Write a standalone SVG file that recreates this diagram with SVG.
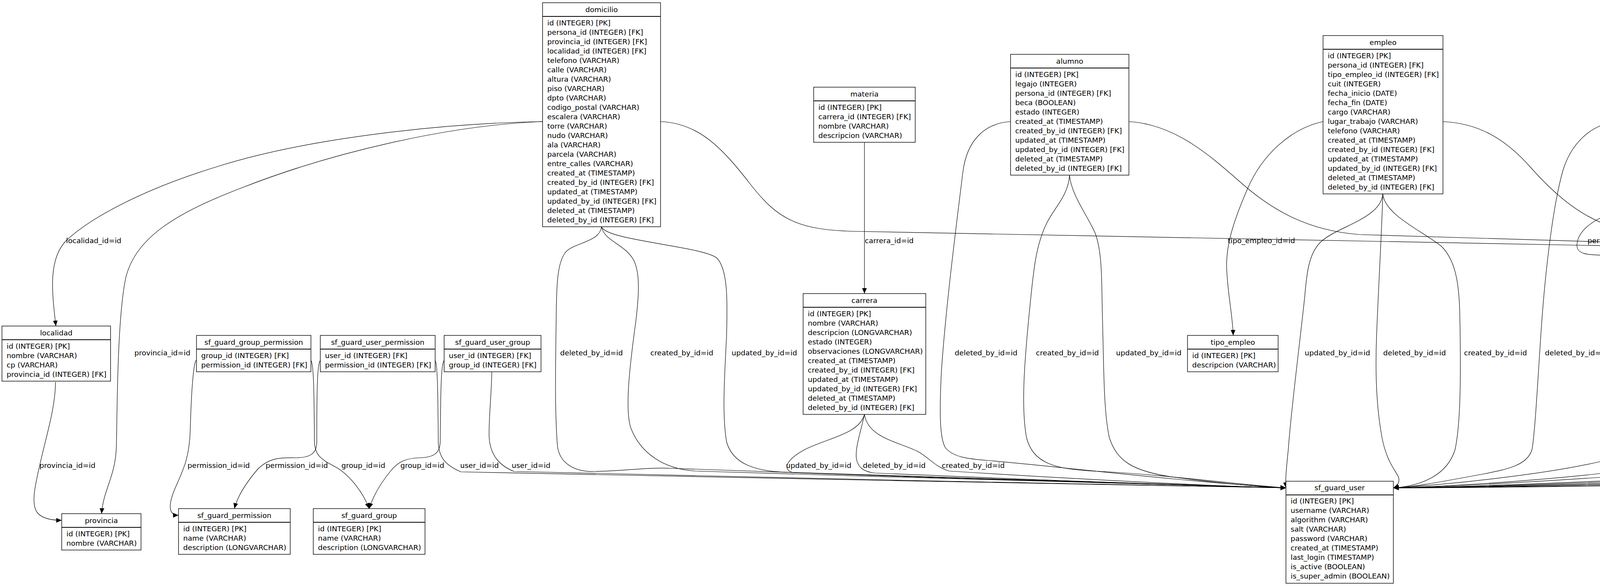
<svg xmlns="http://www.w3.org/2000/svg" width="6759" height="1499" viewBox="0 0 6759 1499">
<style>
text{font-family:"DejaVu Sans","Liberation Sans",sans-serif;font-size:18.5px;fill:#000}
.h{text-anchor:middle}
.b{fill:#fff;stroke:#000;stroke-width:1.4}
.d{stroke:#000;stroke-width:2.2}
.e{fill:none;stroke:#000;stroke-width:1.2;marker-end:url(#arr)}
</style>
<defs>
<marker id="arr" viewBox="0 0 14 12" refX="14" refY="6" markerWidth="14" markerHeight="12" markerUnits="userSpaceOnUse" orient="auto"><path d="M0,0 L14,6 L0,12 z" fill="#000"/></marker>
</defs>
<rect width="6759" height="1499" fill="#fff"/>
<g id="connectors">
<path class="e" d="M1389,311 C1150,315 800,350 560,425 C380,480 240,550 170,615 C120,665 135,760 143,834"/>
<path class="e" d="M1389,311 C1150,320 850,390 620,480 C450,545 340,610 320,720 C300,830 300,1050 298,1140 C296,1220 265,1250 260,1314"/>
<path class="e" d="M142,977 C142,1040 120,1110 104,1180 C90,1240 78,1290 96,1312 C110,1328 135,1331 158,1331"/>
<path class="e" d="M502,922 C496,928 490,990 487,1100 C485,1170 470,1200 450,1245 C430,1290 430,1318 457,1318"/>
<path class="e" d="M796,922 C803,930 804,1000 805,1130 C806,1170 830,1178 860,1195 C895,1215 930,1260 945,1301"/>
<path class="e" d="M820,922 C812,930 811,1000 811,1130 C811,1160 795,1170 760,1171 C720,1170 690,1170 660,1200 C630,1235 608,1270 600,1301"/>
<path class="e" d="M1114,922 C1120,930 1121,1000 1122,1130 C1123,1170 1140,1190 1180,1207 C1400,1215 2800,1238 3292,1248"/>
<path class="e" d="M1137,922 C1129,930 1128,1000 1127,1130 C1126,1160 1110,1170 1075,1171 C1040,1172 1020,1180 1000,1205 C975,1235 955,1270 945,1301"/>
<path class="e" d="M1259,952 C1258,1010 1252,1060 1252,1110 C1252,1160 1275,1190 1316,1206 C1600,1216 2900,1240 3292,1248"/>
<path class="e" d="M1540,580 C1535,620 1470,620 1448,645 C1428,670 1425,720 1424,800 C1422,950 1420,1050 1427,1140 C1432,1185 1470,1207 1520,1206 C1600,1205 1650,1195 1720,1198 C2200,1215 2900,1240 3292,1248"/>
<path class="e" d="M1540,580 C1545,615 1600,625 1622,665 C1640,700 1635,760 1628,820 C1610,950 1600,1050 1615,1095 C1640,1160 1700,1200 1780,1205 C2300,1220 2900,1240 3292,1248"/>
<path class="e" d="M1540,580 C1550,615 1800,630 1835,660 C1865,690 1862,780 1860,860 C1855,960 1848,1060 1860,1130 C1875,1185 1930,1205 2010,1208 C2500,1222 3000,1242 3292,1248"/>
<path class="e" d="M2213,1060 C2200,1110 2120,1120 2060,1150 C2015,1175 2000,1200 2030,1209 C2400,1222 3000,1242 3292,1248"/>
<path class="e" d="M2213,1060 C2205,1100 2190,1140 2192,1170 C2195,1195 2210,1207 2240,1210 C2600,1225 3050,1243 3292,1248"/>
<path class="e" d="M2213,1060 C2222,1120 2300,1130 2350,1155 C2380,1172 2395,1195 2430,1205 C2700,1222 3100,1244 3292,1248"/>
<path class="e" d="M2587,311 C2520,315 2475,360 2465,440 C2445,600 2420,800 2410,950 C2405,1050 2405,1120 2420,1145 C2440,1170 2480,1174 2530,1178 C2700,1192 3000,1230 3292,1248"/>
<path class="e" d="M2738,448 C2735,500 2700,530 2680,570 C2650,630 2645,700 2635,800 C2620,950 2615,1050 2628,1120 C2645,1185 2700,1200 2800,1205 C3000,1215 3150,1238 3292,1248"/>
<path class="e" d="M2738,448 C2742,500 2790,560 2805,600 C2822,650 2820,720 2822,800 C2826,950 2825,1050 2840,1120 C2860,1180 2900,1205 3000,1220 C3100,1233 3200,1244 3292,1248"/>
<path class="e" d="M3540,496 C3535,560 3420,580 3380,620 C3350,650 3345,700 3340,760 C3325,900 3305,1050 3298,1150 C3294,1190 3290,1225 3292,1248"/>
<path class="e" d="M3540,496 C3537,600 3528,750 3524,860 C3520,960 3525,1050 3538,1120 C3550,1180 3570,1200 3580,1220 C3585,1235 3575,1245 3567,1248"/>
<path class="e" d="M3540,496 C3545,550 3640,590 3690,630 C3725,665 3735,720 3737,800 C3740,950 3740,1080 3725,1150 C3705,1215 3640,1243 3567,1248"/>
<path class="e" d="M4140,311 C4070,318 4020,370 4000,440 C3975,530 3955,700 3945,850 C3935,1000 3930,1100 3922,1150 C3910,1190 3860,1200 3800,1212 C3700,1230 3630,1245 3567,1248"/>
<path class="e" d="M4291,435 C4290,500 4250,515 4160,535 C4080,555 4040,590 4037,625 C4035,650 4060,653 4120,653 C4160,654 4172,690 4178,740 C4190,850 4188,980 4183,1050 C4176,1120 4150,1160 4100,1180 C3950,1215 3700,1240 3567,1248"/>
<path class="e" d="M4291,435 C4292,500 4340,515 4420,535 C4500,555 4540,590 4548,625 C4552,645 4520,643 4450,642 C4390,645 4370,700 4365,760 C4360,860 4390,950 4405,1030 C4412,1100 4380,1160 4320,1180 C4100,1220 3750,1243 3567,1248"/>
<path class="e" d="M5076,311 C4950,320 4820,380 4730,470 C4650,550 4615,620 4608,700 C4600,850 4602,1000 4601,1120 C4600,1165 4580,1180 4500,1192 C4200,1215 3800,1243 3567,1248"/>
<path class="e" d="M5076,311 C4960,330 4910,390 4890,480 C4860,600 4840,700 4833,820 C4828,950 4828,1050 4825,1120 C4820,1170 4790,1190 4700,1200 C4300,1222 3850,1244 3567,1248"/>
<path class="e" d="M5256,531 C5250,580 5200,590 5120,612 C5060,630 5040,680 5037,760 C5035,900 5036,1050 5032,1130 C5028,1165 5000,1175 4900,1190 C4500,1220 3900,1244 3567,1248"/>
<path class="e" d="M5237,922 C5225,935 5223,1000 5223,1100 C5223,1150 5210,1168 5180,1172 C5100,1175 5030,1172 5000,1180 C4970,1190 4960,1200 4900,1205 C4500,1225 3900,1245 3567,1248"/>
<path class="e" d="M5533,918 C5525,930 5524,1000 5524,1130 C5524,1160 5510,1168 5480,1170 C5300,1175 5180,1172 5140,1180 C5115,1188 5105,1205 5060,1210 C4600,1228 3950,1245 3567,1248"/>
<path class="e" d="M5533,922 C5528,935 5528,1000 5528,1140 C5528,1170 5505,1178 5470,1180 C5400,1181 5330,1180 5300,1188 C5280,1195 5270,1210 5230,1214 C4700,1230 4000,1246 3567,1248"/>
<path class="e" d="M5703,1155 C5695,1170 5680,1178 5620,1183 C5540,1188 5500,1190 5480,1205 C5460,1215 5400,1216 5300,1218 C4700,1235 4000,1247 3567,1248"/>
<path class="e" d="M5703,1155 C5706,1200 5705,1250 5701,1301"/>
<path class="e" d="M5703,1155 C5710,1175 5730,1180 5780,1183 C5820,1186 5838,1230 5839,1314"/>
<path class="e" d="M5875,922 C5882,935 5883,1000 5883,1130 C5883,1165 5905,1175 5960,1180 C6010,1185 6050,1210 6075,1235 C6090,1255 6096,1280 6096,1301"/>
<path class="e" d="M5875,922 C5885,935 5886,1000 5886,1140 C5886,1170 5910,1178 5960,1176 C6050,1172 6150,1160 6230,1172 C6270,1180 6274,1210 6273,1250 C6272,1300 6275,1331 6308,1331"/>
<path class="e" d="M5444,311 C5650,318 5800,390 5890,480 C5970,560 6000,680 6010,760 C6015,810 6015,840 6015,858"/>
<path class="e" d="M5444,311 C5700,320 5950,420 6150,600 C6350,780 6480,980 6530,1150 C6560,1250 6545,1331 6510,1331"/>
<path class="e" d="M3387,311 C3300,330 3230,400 3195,480 C3160,560 3140,620 3140,680 C3142,750 3155,800 3157,858"/>
<path class="e" d="M2213,364 L2213,751"/>
<path class="e" d="M1691,311 C1790,315 1850,380 1920,470 C1990,560 2040,590 2200,592 C3200,605 4400,630 5533,662"/>
<path class="e" d="M2890,311 C3010,318 3100,400 3180,470 C3260,540 3350,590 3480,600 C4000,615 4800,640 5533,662"/>
<path class="e" d="M3694,311 C3780,315 3850,350 3920,430 C4000,520 4080,580 4200,598 C4600,620 5100,640 5533,662"/>
<path class="e" d="M4443,311 C4600,318 4700,370 4800,440 C4950,540 5100,595 5300,620 C5420,635 5500,645 5533,662"/>
<path class="e" d="M5256,531 C5258,560 5300,575 5420,600 C5480,615 5515,640 5533,662"/>
<text x="169" y="622">localidad_id=id</text>
<text x="2214" y="622">carrera_id=id</text>
<text x="3143" y="622">tipo_empleo_id=id</text>
<text x="4064" y="622">persona_id=id</text>
<text x="4332" y="622">persona_id=id</text>
<text x="4993" y="622">persona_id=id</text>
<text x="5248" y="622">persona_id=id</text>
<text x="5472" y="622">persona_id=id</text>
<text x="5975" y="622">tipo_titulo_id=id</text>
<text x="344" y="909">provincia_id=id</text>
<text x="1434" y="909">deleted_by_id=id</text>
<text x="1665" y="909">created_by_id=id</text>
<text x="1873" y="909">updated_by_id=id</text>
<text x="2444" y="909">deleted_by_id=id</text>
<text x="2652" y="909">created_by_id=id</text>
<text x="2857" y="909">updated_by_id=id</text>
<text x="3340" y="909">updated_by_id=id</text>
<text x="3541" y="909">deleted_by_id=id</text>
<text x="3748" y="909">created_by_id=id</text>
<text x="3955" y="909">deleted_by_id=id</text>
<text x="4189" y="909">created_by_id=id</text>
<text x="4414" y="909">updated_by_id=id</text>
<text x="4615" y="909">deleted_by_id=id</text>
<text x="4847" y="909">created_by_id=id</text>
<text x="5054" y="909">updated_by_id=id</text>
<text x="6515" y="909">titulo_nacionalidad_id=id</text>
<text x="101" y="1197">provincia_id=id</text>
<text x="480" y="1197">permission_id=id</text>
<text x="680" y="1197">permission_id=id</text>
<text x="874" y="1197">group_id=id</text>
<text x="1025" y="1197">group_id=id</text>
<text x="1178" y="1197">user_id=id</text>
<text x="1310" y="1197">user_id=id</text>
<text x="2012" y="1197">updated_by_id=id</text>
<text x="2209" y="1197">deleted_by_id=id</text>
<text x="2411" y="1197">created_by_id=id</text>
<text x="4975" y="1197">user_id=id</text>
<text x="5111" y="1197">created_by_id=id</text>
<text x="5308" y="1197">updated_by_id=id</text>
<text x="5532" y="1197">deleted_by_id=id</text>
<text x="5704" y="1197">sexo_id=id</text>
<text x="5828" y="1197">estado_civil_id=id</text>
<text x="6040" y="1197">tipo_documento_id=id</text>
<text x="6271" y="1197">nacionalidad_id=id</text>
</g>
<g id="localidad"><rect class="b" x="5" y="834" width="278" height="141"/><line class="d" x1="5" y1="869" x2="283" y2="869"/><text class="h" x="144" y="858">localidad</text><text x="17" y="892"><tspan x="17">id (INTEGER) [PK]</tspan><tspan x="17" dy="24">nombre (VARCHAR)</tspan><tspan x="17" dy="24">cp (VARCHAR)</tspan><tspan x="17" dy="24">provincia_id (INTEGER) [FK]</tspan></text></g>
<g id="provincia"><rect class="b" x="158" y="1314" width="203" height="93"/><line class="d" x1="158" y1="1349" x2="361" y2="1349"/><text class="h" x="259.5" y="1338">provincia</text><text x="170" y="1372"><tspan x="170">id (INTEGER) [PK]</tspan><tspan x="170" dy="24">nombre (VARCHAR)</tspan></text></g>
<g id="sf_guard_group_permission"><rect class="b" x="503" y="858" width="293" height="93"/><line class="d" x1="503" y1="893" x2="796" y2="893"/><text class="h" x="649.5" y="882">sf_guard_group_permission</text><text x="515" y="916"><tspan x="515">group_id (INTEGER) [FK]</tspan><tspan x="515" dy="24">permission_id (INTEGER) [FK]</tspan></text></g>
<g id="sf_guard_user_permission"><rect class="b" x="820" y="858" width="294" height="93"/><line class="d" x1="820" y1="893" x2="1114" y2="893"/><text class="h" x="967" y="882">sf_guard_user_permission</text><text x="832" y="916"><tspan x="832">user_id (INTEGER) [FK]</tspan><tspan x="832" dy="24">permission_id (INTEGER) [FK]</tspan></text></g>
<g id="sf_guard_user_group"><rect class="b" x="1137" y="858" width="248" height="93"/><line class="d" x1="1137" y1="893" x2="1385" y2="893"/><text class="h" x="1261" y="882">sf_guard_user_group</text><text x="1149" y="916"><tspan x="1149">user_id (INTEGER) [FK]</tspan><tspan x="1149" dy="24">group_id (INTEGER) [FK]</tspan></text></g>
<g id="sf_guard_permission"><rect class="b" x="457" y="1301" width="286" height="117"/><line class="d" x1="457" y1="1336" x2="743" y2="1336"/><text class="h" x="600" y="1325">sf_guard_permission</text><text x="469" y="1359"><tspan x="469">id (INTEGER) [PK]</tspan><tspan x="469" dy="24">name (VARCHAR)</tspan><tspan x="469" dy="24">description (LONGVARCHAR)</tspan></text></g>
<g id="sf_guard_group"><rect class="b" x="802" y="1301" width="286" height="117"/><line class="d" x1="802" y1="1336" x2="1088" y2="1336"/><text class="h" x="945" y="1325">sf_guard_group</text><text x="814" y="1359"><tspan x="814">id (INTEGER) [PK]</tspan><tspan x="814" dy="24">name (VARCHAR)</tspan><tspan x="814" dy="24">description (LONGVARCHAR)</tspan></text></g>
<g id="domicilio"><rect class="b" x="1389" y="7" width="302" height="573"/><line class="d" x1="1389" y1="42" x2="1691" y2="42"/><text class="h" x="1540" y="31">domicilio</text><text x="1401" y="65"><tspan x="1401">id (INTEGER) [PK]</tspan><tspan x="1401" dy="24">persona_id (INTEGER) [FK]</tspan><tspan x="1401" dy="24">provincia_id (INTEGER) [FK]</tspan><tspan x="1401" dy="24">localidad_id (INTEGER) [FK]</tspan><tspan x="1401" dy="24">telefono (VARCHAR)</tspan><tspan x="1401" dy="24">calle (VARCHAR)</tspan><tspan x="1401" dy="24">altura (VARCHAR)</tspan><tspan x="1401" dy="24">piso (VARCHAR)</tspan><tspan x="1401" dy="24">dpto (VARCHAR)</tspan><tspan x="1401" dy="24">codigo_postal (VARCHAR)</tspan><tspan x="1401" dy="24">escalera (VARCHAR)</tspan><tspan x="1401" dy="24">torre (VARCHAR)</tspan><tspan x="1401" dy="24">nudo (VARCHAR)</tspan><tspan x="1401" dy="24">ala (VARCHAR)</tspan><tspan x="1401" dy="24">parcela (VARCHAR)</tspan><tspan x="1401" dy="24">entre_calles (VARCHAR)</tspan><tspan x="1401" dy="24">created_at (TIMESTAMP)</tspan><tspan x="1401" dy="24">created_by_id (INTEGER) [FK]</tspan><tspan x="1401" dy="24">updated_at (TIMESTAMP)</tspan><tspan x="1401" dy="24">updated_by_id (INTEGER) [FK]</tspan><tspan x="1401" dy="24">deleted_at (TIMESTAMP)</tspan><tspan x="1401" dy="24">deleted_by_id (INTEGER) [FK]</tspan></text></g>
<g id="materia"><rect class="b" x="2083" y="223" width="260" height="141"/><line class="d" x1="2083" y1="258" x2="2343" y2="258"/><text class="h" x="2213" y="247">materia</text><text x="2095" y="281"><tspan x="2095">id (INTEGER) [PK]</tspan><tspan x="2095" dy="24">carrera_id (INTEGER) [FK]</tspan><tspan x="2095" dy="24">nombre (VARCHAR)</tspan><tspan x="2095" dy="24">descripcion (VARCHAR)</tspan></text></g>
<g id="carrera"><rect class="b" x="2056" y="751" width="314" height="309"/><line class="d" x1="2056" y1="786" x2="2370" y2="786"/><text class="h" x="2213" y="775">carrera</text><text x="2068" y="809"><tspan x="2068">id (INTEGER) [PK]</tspan><tspan x="2068" dy="24">nombre (VARCHAR)</tspan><tspan x="2068" dy="24">descripcion (LONGVARCHAR)</tspan><tspan x="2068" dy="24">estado (INTEGER)</tspan><tspan x="2068" dy="24">observaciones (LONGVARCHAR)</tspan><tspan x="2068" dy="24">created_at (TIMESTAMP)</tspan><tspan x="2068" dy="24">created_by_id (INTEGER) [FK]</tspan><tspan x="2068" dy="24">updated_at (TIMESTAMP)</tspan><tspan x="2068" dy="24">updated_by_id (INTEGER) [FK]</tspan><tspan x="2068" dy="24">deleted_at (TIMESTAMP)</tspan><tspan x="2068" dy="24">deleted_by_id (INTEGER) [FK]</tspan></text></g>
<g id="alumno"><rect class="b" x="2587" y="139" width="303" height="309"/><line class="d" x1="2587" y1="174" x2="2890" y2="174"/><text class="h" x="2738.5" y="163">alumno</text><text x="2599" y="197"><tspan x="2599">id (INTEGER) [PK]</tspan><tspan x="2599" dy="24">legajo (INTEGER)</tspan><tspan x="2599" dy="24">persona_id (INTEGER) [FK]</tspan><tspan x="2599" dy="24">beca (BOOLEAN)</tspan><tspan x="2599" dy="24">estado (INTEGER)</tspan><tspan x="2599" dy="24">created_at (TIMESTAMP)</tspan><tspan x="2599" dy="24">created_by_id (INTEGER) [FK]</tspan><tspan x="2599" dy="24">updated_at (TIMESTAMP)</tspan><tspan x="2599" dy="24">updated_by_id (INTEGER) [FK]</tspan><tspan x="2599" dy="24">deleted_at (TIMESTAMP)</tspan><tspan x="2599" dy="24">deleted_by_id (INTEGER) [FK]</tspan></text></g>
<g id="empleo"><rect class="b" x="3387" y="91" width="307" height="405"/><line class="d" x1="3387" y1="126" x2="3694" y2="126"/><text class="h" x="3540.5" y="115">empleo</text><text x="3399" y="149"><tspan x="3399">id (INTEGER) [PK]</tspan><tspan x="3399" dy="24">persona_id (INTEGER) [FK]</tspan><tspan x="3399" dy="24">tipo_empleo_id (INTEGER) [FK]</tspan><tspan x="3399" dy="24">cuit (INTEGER)</tspan><tspan x="3399" dy="24">fecha_inicio (DATE)</tspan><tspan x="3399" dy="24">fecha_fin (DATE)</tspan><tspan x="3399" dy="24">cargo (VARCHAR)</tspan><tspan x="3399" dy="24">lugar_trabajo (VARCHAR)</tspan><tspan x="3399" dy="24">telefono (VARCHAR)</tspan><tspan x="3399" dy="24">created_at (TIMESTAMP)</tspan><tspan x="3399" dy="24">created_by_id (INTEGER) [FK]</tspan><tspan x="3399" dy="24">updated_at (TIMESTAMP)</tspan><tspan x="3399" dy="24">updated_by_id (INTEGER) [FK]</tspan><tspan x="3399" dy="24">deleted_at (TIMESTAMP)</tspan><tspan x="3399" dy="24">deleted_by_id (INTEGER) [FK]</tspan></text></g>
<g id="tipo_empleo"><rect class="b" x="3040" y="858" width="232" height="93"/><line class="d" x1="3040" y1="893" x2="3272" y2="893"/><text class="h" x="3156" y="882">tipo_empleo</text><text x="3052" y="916"><tspan x="3052">id (INTEGER) [PK]</tspan><tspan x="3052" dy="24">descripcion (VARCHAR)</tspan></text></g>
<g id="sf_guard_user"><rect class="b" x="3292" y="1231" width="275" height="261"/><line class="d" x1="3292" y1="1266" x2="3567" y2="1266"/><text class="h" x="3429.5" y="1254">sf_guard_user</text><text x="3304" y="1288"><tspan x="3304">id (INTEGER) [PK]</tspan><tspan x="3304" dy="24">username (VARCHAR)</tspan><tspan x="3304" dy="24">algorithm (VARCHAR)</tspan><tspan x="3304" dy="24">salt (VARCHAR)</tspan><tspan x="3304" dy="24">password (VARCHAR)</tspan><tspan x="3304" dy="24">created_at (TIMESTAMP)</tspan><tspan x="3304" dy="24">last_login (TIMESTAMP)</tspan><tspan x="3304" dy="24">is_active (BOOLEAN)</tspan><tspan x="3304" dy="24">is_super_admin (BOOLEAN)</tspan></text></g>
<g id="docente"><rect class="b" x="4140" y="150" width="302" height="285"/><line class="d" x1="4140" y1="185" x2="4442" y2="185"/><text class="h" x="4291" y="174">docente</text><text x="4152" y="208"><tspan x="4152">id (INTEGER) [PK]</tspan><tspan x="4152" dy="24">legajo (INTEGER)</tspan><tspan x="4152" dy="24">estado (INTEGER)</tspan><tspan x="4152" dy="24">persona_id (INTEGER) [FK]</tspan><tspan x="4152" dy="24">created_at (TIMESTAMP)</tspan><tspan x="4152" dy="24">created_by_id (INTEGER) [FK]</tspan><tspan x="4152" dy="24">updated_at (TIMESTAMP)</tspan><tspan x="4152" dy="24">updated_by_id (INTEGER) [FK]</tspan><tspan x="4152" dy="24">deleted_at (TIMESTAMP)</tspan><tspan x="4152" dy="24">deleted_by_id (INTEGER) [FK]</tspan></text></g>
<g id="dato_academico"><rect class="b" x="5076" y="54" width="367" height="477"/><line class="d" x1="5076" y1="89" x2="5443" y2="89"/><text class="h" x="5259.5" y="78">dato_academico</text><text x="5088" y="112"><tspan x="5088">id (INTEGER) [PK]</tspan><tspan x="5088" dy="24">persona_id (INTEGER) [FK]</tspan><tspan x="5088" dy="24">tipo_titulo_id (INTEGER) [FK]</tspan><tspan x="5088" dy="24">titulo_obtenido (VARCHAR)</tspan><tspan x="5088" dy="24">establecimiento (VARCHAR)</tspan><tspan x="5088" dy="24">anio_titulo (INTEGER)</tspan><tspan x="5088" dy="24">jurisdiccion (VARCHAR)</tspan><tspan x="5088" dy="24">titulo_nacionalidad_id (INTEGER) [FK]</tspan><tspan x="5088" dy="24">estatal (BOOLEAN)</tspan><tspan x="5088" dy="24">visado (BOOLEAN)</tspan><tspan x="5088" dy="24">fecha_visado (DATE)</tspan><tspan x="5088" dy="24">observaciones (LONGVARCHAR)</tspan><tspan x="5088" dy="24">created_at (TIMESTAMP)</tspan><tspan x="5088" dy="24">created_by_id (INTEGER) [FK]</tspan><tspan x="5088" dy="24">updated_at (TIMESTAMP)</tspan><tspan x="5088" dy="24">updated_by_id (INTEGER) [FK]</tspan><tspan x="5088" dy="24">deleted_at (TIMESTAMP)</tspan><tspan x="5088" dy="24">deleted_by_id (INTEGER) [FK]</tspan></text></g>
<g id="sf_guard_remember_key"><rect class="b" x="5237" y="834" width="272" height="141"/><line class="d" x1="5237" y1="869" x2="5509" y2="869"/><text class="h" x="5373" y="858">sf_guard_remember_key</text><text x="5249" y="892"><tspan x="5249">user_id (INTEGER) [FK]</tspan><tspan x="5249" dy="24">remember_key (VARCHAR)</tspan><tspan x="5249" dy="24">ip_address (VARCHAR) [PK]</tspan><tspan x="5249" dy="24">created_at (TIMESTAMP)</tspan></text></g>
<g id="persona"><rect class="b" x="5533" y="654" width="341" height="501"/><line class="d" x1="5533" y1="689" x2="5874" y2="689"/><text class="h" x="5703.5" y="678">persona</text><text x="5545" y="712"><tspan x="5545">id (INTEGER) [PK]</tspan><tspan x="5545" dy="24">nombre (VARCHAR)</tspan><tspan x="5545" dy="24">apellido (VARCHAR)</tspan><tspan x="5545" dy="24">tipo_documento_id (INTEGER) [FK]</tspan><tspan x="5545" dy="24">nro_documento (INTEGER)</tspan><tspan x="5545" dy="24">sexo_id (INTEGER) [FK]</tspan><tspan x="5545" dy="24">celular (VARCHAR)</tspan><tspan x="5545" dy="24">email (VARCHAR)</tspan><tspan x="5545" dy="24">nacionalidad_id (INTEGER) [FK]</tspan><tspan x="5545" dy="24">estado_civil_id (INTEGER) [FK]</tspan><tspan x="5545" dy="24">fecha_nacimiento (DATE)</tspan><tspan x="5545" dy="24">lugar_nacimiento (VARCHAR)</tspan><tspan x="5545" dy="24">observaciones (LONGVARCHAR)</tspan><tspan x="5545" dy="24">created_at (TIMESTAMP)</tspan><tspan x="5545" dy="24">created_by_id (INTEGER) [FK]</tspan><tspan x="5545" dy="24">updated_at (TIMESTAMP)</tspan><tspan x="5545" dy="24">updated_by_id (INTEGER) [FK]</tspan><tspan x="5545" dy="24">deleted_at (TIMESTAMP)</tspan><tspan x="5545" dy="24">deleted_by_id (INTEGER) [FK]</tspan></text></g>
<g id="tipo_titulo"><rect class="b" x="5898" y="858" width="233" height="93"/><line class="d" x1="5898" y1="893" x2="6131" y2="893"/><text class="h" x="6014.5" y="882">tipo_titulo</text><text x="5910" y="916"><tspan x="5910">id (INTEGER) [PK]</tspan><tspan x="5910" dy="24">descripcion (VARCHAR)</tspan></text></g>
<g id="tipo_sexo"><rect class="b" x="5467" y="1301" width="232" height="117"/><line class="d" x1="5467" y1="1336" x2="5699" y2="1336"/><text class="h" x="5583" y="1325">tipo_sexo</text><text x="5479" y="1359"><tspan x="5479">id (INTEGER) [PK]</tspan><tspan x="5479" dy="24">nombre (VARCHAR)</tspan><tspan x="5479" dy="24">descripcion (VARCHAR)</tspan></text></g>
<g id="estado_civil"><rect class="b" x="5723" y="1314" width="233" height="93"/><line class="d" x1="5723" y1="1349" x2="5956" y2="1349"/><text class="h" x="5839.5" y="1338">estado_civil</text><text x="5735" y="1372"><tspan x="5735">id (INTEGER) [PK]</tspan><tspan x="5735" dy="24">descripcion (VARCHAR)</tspan></text></g>
<g id="tipo_documento"><rect class="b" x="5979" y="1301" width="233" height="117"/><line class="d" x1="5979" y1="1336" x2="6212" y2="1336"/><text class="h" x="6095.5" y="1325">tipo_documento</text><text x="5991" y="1359"><tspan x="5991">id (INTEGER) [PK]</tspan><tspan x="5991" dy="24">nombre (VARCHAR)</tspan><tspan x="5991" dy="24">descripcion (VARCHAR)</tspan></text></g>
<g id="nacionalidad"><rect class="b" x="6308" y="1314" width="202" height="93"/><line class="d" x1="6308" y1="1349" x2="6510" y2="1349"/><text class="h" x="6409" y="1338">nacionalidad</text><text x="6320" y="1372"><tspan x="6320">id (INTEGER) [PK]</tspan><tspan x="6320" dy="24">nombre (VARCHAR)</tspan></text></g>
</svg>
